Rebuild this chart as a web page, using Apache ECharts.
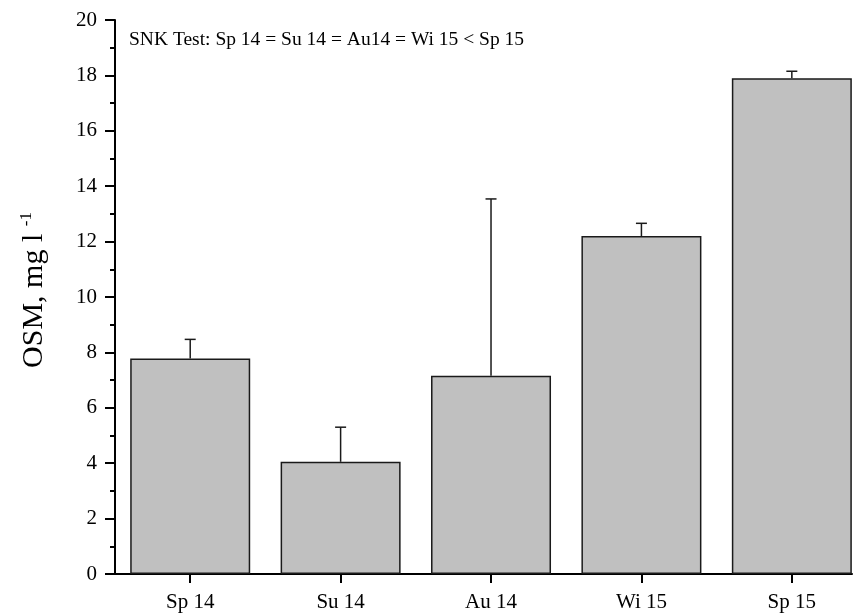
<!DOCTYPE html>
<html>
<head>
<meta charset="utf-8">
<script src="https://cdn.jsdelivr.net/npm/echarts@6/dist/echarts.min.js"></script>
<style>html,body{margin:0;padding:0;background:#fff}#c{width:856px;height:614px}</style>
</head>
<body>
<div id="c"></div>
<script>
const categories = ['Sp 14', 'Su 14', 'Au 14', 'Wi 15', 'Sp 15'];
const means = [7.78, 4.05, 7.16, 12.20, 17.90];
const errUpper = [8.47, 5.30, 13.54, 12.66, 18.15];
const yTicks = [0, 2, 4, 6, 8, 10, 12, 14, 16, 18, 20];
const note = 'SNK Test: Sp 14 = Su 14 = Au14 = Wi 15 < Sp 15';

const positions = categories.map((c, i) => i + 1);
const barData = means.map((v, i) => [positions[i], v]);
const errData = means.map((v, i) => [positions[i], v, errUpper[i]]);
const font = '"Liberation Serif", "Times New Roman", serif';

const chart = echarts.init(document.getElementById('c'));
chart.setOption({
  animation: false,
  backgroundColor: '#fff',
  textStyle: { fontFamily: font },
  grid: { left: 115, right: 4, top: 20, bottom: 40, containLabel: false },
  title: {
    text: note, left: 124, top: 25,
    textStyle: { fontFamily: font, fontSize: 19.5, fontWeight: 'normal', color: '#000' }
  },
  xAxis: {
    type: 'value', min: 0.5, max: 5.4,
    splitLine: { show: false },
    axisLine: { show: true, onZero: false, lineStyle: { color: '#000', width: 2 } },
    axisTick: { show: true, inside: false, length: 9, customValues: positions, lineStyle: { color: '#000', width: 2 } },
    axisLabel: {
      customValues: positions, margin: 18,
      fontFamily: font, fontSize: 21, color: '#000',
      formatter: v => categories[Math.round(v) - 1] || ''
    }
  },
  yAxis: {
    type: 'value', min: 0, max: 20, interval: 2,
    name: '{a|OSM, mg l }{b|-1}',
    nameLocation: 'middle', nameGap: 64, nameRotate: 90,
    nameTextStyle: {
      padding: [0, 0, 0, 14],
      rich: {
        a: { fontFamily: font, fontSize: 30, color: '#000' },
        b: { fontFamily: font, fontSize: 17, color: '#000', verticalAlign: 'top', padding: [0, 0, 16, 0] }
      }
    },
    splitLine: { show: false },
    axisLine: { show: true, lineStyle: { color: '#000', width: 2 } },
    axisTick: { show: true, length: 10, lineStyle: { color: '#000', width: 2 } },
    minorTick: { show: true, splitNumber: 2, length: 5, lineStyle: { color: '#000', width: 2 } },
    axisLabel: { fontFamily: font, fontSize: 21, color: '#000', margin: 18,
      formatter: v => yTicks.includes(v) ? String(v) : '' }
  },
  series: [
    {
      type: 'bar', data: barData, barWidth: 120,
      itemStyle: { color: '#c0c0c0', borderColor: '#1a1a1a', borderWidth: 1.5 },
      z: 2
    },
    {
      type: 'custom', data: errData, z: 3,
      renderItem: function (params, api) {
        const x = api.value(0);
        const top = api.coord([x, api.value(2)]);
        const base = api.coord([x, api.value(1)]);
        const hw = 5.5;
        const st = { stroke: '#1a1a1a', lineWidth: 1.5 };
        return {
          type: 'group',
          children: [
            { type: 'line', shape: { x1: top[0], y1: base[1], x2: top[0], y2: top[1] }, style: st },
            { type: 'line', shape: { x1: top[0] - hw, y1: top[1], x2: top[0] + hw, y2: top[1] }, style: st }
          ]
        };
      }
    }
  ]
});
</script>
</body>
</html>
